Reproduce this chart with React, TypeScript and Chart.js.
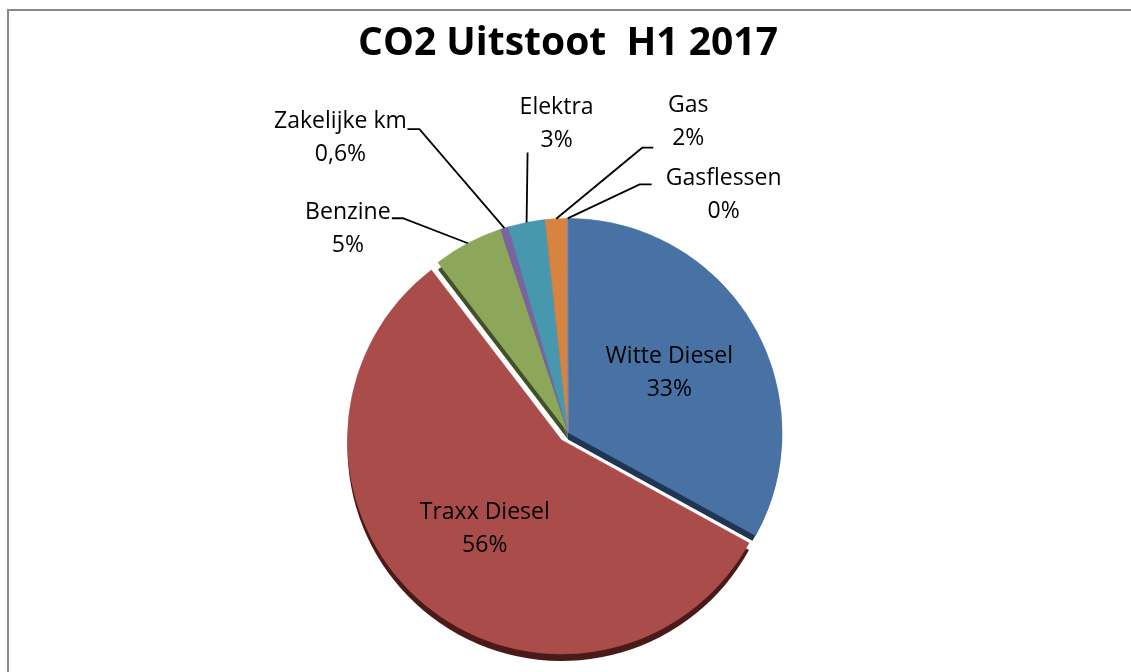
import React, { useEffect, useRef } from 'react';
import { Chart, registerables } from 'chart.js';

Chart.register(...registerables);

// ---- data ----
const chartTitle = 'CO2 Uitstoot  H1 2017';
const categories = ['Witte Diesel', 'Traxx Diesel', 'Benzine', 'Zakelijke km', 'Elektra', 'Gas', 'Gasflessen'];
const shares = [33.0, 56.6, 5.3, 0.6, 2.8, 1.65, 0.05];
const percentLabels = ['33%', '56%', '5%', '0,6%', '3%', '2%', '0%'];

// ---- style ----
const sliceColors = ['#4871A4', '#AA4C4A', '#8CA65A', '#7B62A0', '#4798AE', '#D8833F', '#6F8FBF'];
const sideColors = ['#1F3553', '#4A1A18', '#434F27', '#3A2C4D', '#1F4A55', '#6A3D18', '#2A3F5E'];
const explodePx = [0, 10, 0, 0, 0, 0, 0];
const depthPx = 7;
const labelFont = '23px "Open Sans"';
const lineGap = 33;

type LabelLayout = {
  inside?: number;
  text?: [number, number];
  knee?: [number, number] | null;
  end?: [number, number];
};
// offsets relative to the arc's outer edge point at mid-angle
const labelLayout: LabelLayout[] = [
  { inside: 0.55 },
  { inside: 0.55 },
  { text: [-120, -14], knee: [-65, -25], end: [-76, -25] },
  { text: [-164, -90], knee: [-85, -99], end: [-97, -99] },
  { text: [30, -98], knee: null, end: [1, -70] },
  { text: [132, -97], knee: [86, -71], end: [97, -71] },
  { text: [156, -23], knee: [72, -34], end: [84, -34] },
];

const piePlugin = {
  id: 'pie3dLabels',
  beforeDatasetDraw() {
    return false;
  },
  afterDatasetsDraw(chart: any) {
    const ctx: CanvasRenderingContext2D = chart.ctx;
    const meta = chart.getDatasetMeta(0);
    let baseX = 0, baseY = 0, baseR = 0;
    const arcs = meta.data.map((el: any, i: number) => {
      const p = el.getProps(['x', 'y', 'startAngle', 'endAngle', 'outerRadius']);
      baseX = p.x; baseY = p.y; baseR = p.outerRadius;
      const mid = (p.startAngle + p.endAngle) / 2;
      const ex = explodePx[i] || 0;
      return {
        cx: p.x + Math.cos(mid) * ex,
        cy: p.y + Math.sin(mid) * ex,
        r: p.outerRadius,
        s: p.startAngle,
        e: p.endAngle,
        mid,
        exploded: ex > 0,
      };
    });
    const path = (a: any, dy: number) => {
      ctx.beginPath();
      ctx.moveTo(a.cx, a.cy + dy);
      ctx.arc(a.cx, a.cy + dy, a.r, a.s, a.e);
      ctx.closePath();
    };
    ctx.save();
    // side / depth
    arcs.forEach((a: any, i: number) => {
      ctx.save();
      if (!a.exploded) {
        ctx.beginPath();
        ctx.arc(baseX, baseY, baseR, 0, Math.PI * 2);
        ctx.clip();
      }
      path(a, depthPx);
      ctx.fillStyle = sideColors[i];
      ctx.fill();
      ctx.restore();
    });
    // top faces
    arcs.forEach((a: any, i: number) => {
      path(a, 0);
      ctx.fillStyle = sliceColors[i];
      ctx.fill();
      ctx.strokeStyle = sliceColors[i];
      ctx.lineWidth = 0.6;
      ctx.stroke();
    });
    // labels
    ctx.font = labelFont;
    ctx.fillStyle = '#000';
    ctx.textAlign = 'center';
    ctx.textBaseline = 'middle';
    ctx.strokeStyle = '#000';
    ctx.lineWidth = 1.8;
    arcs.forEach((a: any, i: number) => {
      const L = labelLayout[i];
      let tx: number, ty: number;
      if (L.inside !== undefined) {
        tx = a.cx + Math.cos(a.mid) * a.r * L.inside;
        ty = a.cy + Math.sin(a.mid) * a.r * L.inside;
      } else {
        const px = a.cx + Math.cos(a.mid) * a.r;
        const py = a.cy + Math.sin(a.mid) * a.r;
        tx = px + L.text![0];
        ty = py + L.text![1];
        ctx.beginPath();
        ctx.moveTo(px, py);
        if (L.knee) ctx.lineTo(px + L.knee[0], py + L.knee[1]);
        ctx.lineTo(px + L.end![0], py + L.end![1]);
        ctx.stroke();
      }
      ctx.fillText(categories[i], tx, ty - lineGap / 2);
      ctx.fillText(percentLabels[i], tx, ty + lineGap / 2);
    });
    ctx.restore();
  },
};

export default function App() {
  const ref = useRef<HTMLCanvasElement | null>(null);
  useEffect(() => {
    if (!ref.current) return;
    const chart = new Chart(ref.current, {
      type: 'pie',
      data: {
        labels: categories,
        datasets: [
          {
            data: shares,
            backgroundColor: sliceColors,
            borderWidth: 0,
            radius: 214,
          } as any,
        ],
      },
      options: {
        responsive: false,
        animation: false,
        devicePixelRatio: 1,
        layout: { padding: { left: 5, right: 0, top: 0, bottom: 0 } },
        plugins: {
          legend: { display: false },
          tooltip: { enabled: false },
          title: {
            display: true,
            text: chartTitle,
            color: '#000',
            font: { family: 'Open Sans', size: 39, weight: 'bold' },
            padding: { top: 20, bottom: 126 },
          },
        },
      },
      plugins: [piePlugin as any],
    });
    return () => chart.destroy();
  }, []);
  return (
    <div style={{ position: 'fixed', left: 0, top: 0, width: 1131, height: 672, background: '#fff', overflow: 'hidden' }}>
      <div
        style={{
          position: 'absolute',
          left: 7,
          top: 9,
          width: 1140,
          height: 700,
          borderLeft: '2px solid #8a8a8a',
          borderTop: '2px solid #8a8a8a',
        }}
      />
      <canvas ref={ref} width={1131} height={672} style={{ position: 'absolute', left: 0, top: 0 }} />
    </div>
  );
}
